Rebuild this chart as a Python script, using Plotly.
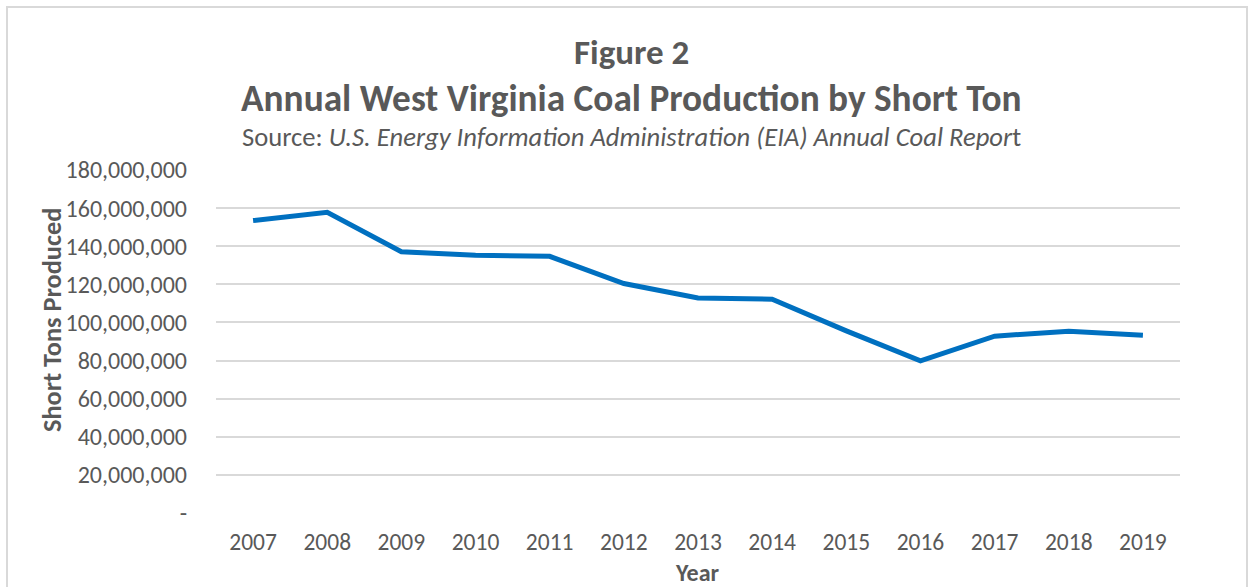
import plotly.graph_objects as go

years = ["2007", "2008", "2009", "2010", "2011", "2012", "2013", "2014", "2015", "2016", "2017", "2018", "2019"]
production = [153500000, 157800000, 137100000, 135200000, 134700000, 120400000, 112800000, 112200000, 95600000, 79900000, 92800000, 95400000, 93300000]
y_tickvals = [0, 20000000, 40000000, 60000000, 80000000, 100000000, 120000000, 140000000, 160000000, 180000000]
y_ticktext = ["-", "20,000,000", "40,000,000", "60,000,000", "80,000,000", "100,000,000", "120,000,000", "140,000,000", "160,000,000", "180,000,000"]

FONT = "Carlito, Calibri, Lato, sans-serif"
GREY = "#595959"

fig = go.Figure()
fig.add_trace(go.Scatter(x=years, y=production, mode="lines",
                         line=dict(color="#0070C0", width=5), hoverinfo="x+y"))

L, R, T, B = 216, 70, 170, 74
W, H = 1250, 587
pw = W - L - R
ph = H - T - B

def px(x):
    return (x - L) / pw

def py(y):
    return (H - B - y) / ph

fig.update_layout(
    width=W, height=H,
    margin=dict(l=L, r=R, t=T, b=B),
    paper_bgcolor="white", plot_bgcolor="white",
    showlegend=False,
    font=dict(family=FONT, color=GREY, size=22),
    xaxis=dict(type="category", range=[-0.5, 12.5], showgrid=False, showline=False, zeroline=False,
               ticks="", tickfont=dict(size=23.5, color=GREY), ticklabelstandoff=12),
    yaxis=dict(range=[0, 180000000], tickvals=y_tickvals, ticktext=y_ticktext,
               showgrid=True, gridcolor="#D9D9D9", gridwidth=2, zeroline=False,
               showline=False, ticks="", tickfont=dict(size=24, color=GREY),
               ticklabelstandoff=28),
    shapes=[dict(type="rect", xref="paper", yref="paper",
                 x0=px(7), x1=px(1247), y0=py(600), y1=py(7),
                 line=dict(color="#D9D9D9", width=2), fillcolor="rgba(0,0,0,0)", layer="below")],
    annotations=[
        dict(text="<b>Figure 2</b>", x=px(631), y=py(52), xref="paper", yref="paper",
             showarrow=False, font=dict(size=35, color=GREY, family=FONT), xanchor="center", yanchor="middle"),
        dict(text="<b>Annual West Virginia Coal Production by Short Ton</b>", x=px(631), y=py(98),
             xref="paper", yref="paper", showarrow=False,
             font=dict(size=37.3, color=GREY, family=FONT), xanchor="center", yanchor="middle"),
        dict(text="Source: <i>U.S. Energy Information Administration (EIA) Annual Coal Repor</i>t",
             x=px(631), y=py(137), xref="paper", yref="paper", showarrow=False,
             font=dict(size=26.6, color=GREY, family=FONT), xanchor="center", yanchor="middle"),
        dict(text="<b>Short Tons Produced</b>", x=px(52), y=py(320), xref="paper", yref="paper",
             showarrow=False, textangle=-90, font=dict(size=26.3, color=GREY, family=FONT),
             xanchor="center", yanchor="middle"),
        dict(text="<b>Year</b>", x=px(697), y=py(572), xref="paper", yref="paper",
             showarrow=False, font=dict(size=24, color=GREY, family=FONT),
             xanchor="center", yanchor="middle"),
    ],
)

fig.write_html("out.html", config={"displayModeBar": False},
               post_script="document.body.style.margin='0px';")
